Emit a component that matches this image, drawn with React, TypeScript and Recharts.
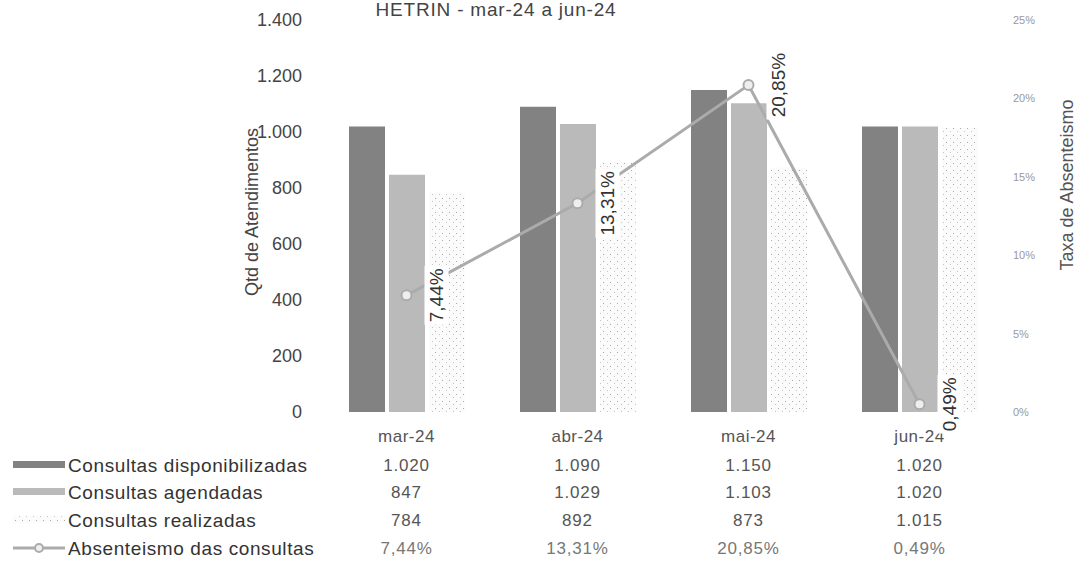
import React from 'react';
import { ComposedChart, Bar, Line, XAxis, YAxis, LabelList } from 'recharts';

const categories = ['mar-24', 'abr-24', 'mai-24', 'jun-24'];
const disponibilizadas = [1020, 1090, 1150, 1020];
const agendadas = [847, 1029, 1103, 1020];
const realizadas = [784, 892, 873, 1015];
const absenteismo = [7.44, 13.31, 20.85, 0.49];
const seriesNames = [
  'Consultas disponibilizadas',
  'Consultas agendadas',
  'Consultas realizadas',
  'Absenteismo das consultas',
];
const leftTicks = [0, 200, 400, 600, 800, 1000, 1200, 1400];
const rightTicks = [0, 5, 10, 15, 20, 25];
const title = 'HETRIN - mar-24 a jun-24';
const leftTitle = 'Qtd de Atendimentos';
const rightTitle = 'Taxa de Absenteismo';

const data = categories.map((c, i) => ({
  cat: c,
  disp: disponibilizadas[i],
  agen: agendadas[i],
  real: realizadas[i],
  abs: absenteismo[i],
}));

const fmtInt = (n: number) => String(n).replace(/\B(?=(\d{3})+(?!\d))/g, '.');
const fmtPct = (n: number) => n.toFixed(2).replace('.', ',') + '%';

const C_DARK = '#828282';
const C_LIGHT = '#bababa';
const C_LINE = '#ababab';

const rowOffsets = [24, 53, 80, 108, 136];

const TableTick = (props: any) => {
  const { x, y, payload } = props;
  const i = categories.indexOf(payload.value);
  const rows = [
    fmtInt(disponibilizadas[i]),
    fmtInt(agendadas[i]),
    fmtInt(realizadas[i]),
    fmtPct(absenteismo[i]),
  ];
  return (
    <g>
      <text x={x} y={y + rowOffsets[0]} textAnchor="middle" dominantBaseline="central" fontSize={17} fill="#555" letterSpacing={0.5}>
        {payload.value}
      </text>
      {rows.map((r, k) => (
        <text
          key={k}
          x={x}
          y={y + rowOffsets[k + 1]}
          textAnchor="middle"
          dominantBaseline="central"
          fontSize={17}
          letterSpacing={0.8}
          fill={k === 3 ? '#777' : '#555'}
        >
          {r}
        </text>
      ))}
      {i === 0 && (
        <g>
          {seriesNames.map((s, k) => {
            const ry = y + rowOffsets[k + 1];
            let key: any = null;
            if (k === 0) key = <rect x={13} y={ry - 4} width={52} height={7} fill={C_DARK} />;
            if (k === 1) key = <rect x={13} y={ry - 4} width={52} height={7} fill={C_LIGHT} />;
            if (k === 2) key = <rect x={13} y={ry - 4} width={52} height={7} fill="url(#dotPat)" />;
            if (k === 3)
              key = (
                <g>
                  <line x1={13} x2={65} y1={ry} y2={ry} stroke={C_LINE} strokeWidth={3} />
                  <circle cx={39} cy={ry} r={4} fill="#eee" stroke={C_LINE} strokeWidth={2} />
                </g>
              );
            return (
              <g key={k}>
                {key}
                <text x={68} y={ry} textAnchor="start" dominantBaseline="central" fontSize={19} letterSpacing={0.6} fill="#333">
                  {s}
                </text>
              </g>
            );
          })}
        </g>
      )}
    </g>
  );
};

const RotLabel = (props: any) => {
  const { x, y, value } = props;
  if (x == null || y == null) return null;
  const cx = x + 30;
  const cy = y;
  const txt = fmtPct(value);
  const w = txt.length * 10.5;
  return (
    <g transform={`rotate(-90 ${cx} ${cy})`}>
      <rect x={cx - w / 2 - 3} y={cy - 12} width={w + 6} height={24} fill="#fff" />
      <text x={cx} y={cy} textAnchor="middle" dominantBaseline="central" fontSize={19} fill="#333">
        {txt}
      </text>
    </g>
  );
};

const LeftTitle = (props: any) => {
  const vb = props.viewBox || {};
  const cx = vb.x - 9;
  const cy = vb.y + vb.height / 2 - 4;
  return (
    <text x={cx} y={cy} transform={`rotate(-90 ${cx} ${cy})`} textAnchor="middle" dominantBaseline="central" fontSize={18} fill="#444">
      {leftTitle}
    </text>
  );
};

const RightTitle = (props: any) => {
  const vb = props.viewBox || {};
  const cx = vb.x + 62;
  const cy = vb.y + 165;
  return (
    <text x={cx} y={cy} transform={`rotate(-90 ${cx} ${cy})`} textAnchor="middle" dominantBaseline="central" fontSize={18} fill="#555">
      {rightTitle}
    </text>
  );
};

const Dot = (props: any) => {
  const { cx, cy } = props;
  if (cx == null || cy == null) return null;
  return <circle cx={cx} cy={cy} r={5} fill="#eee" stroke={C_LINE} strokeWidth={2} />;
};

export default function App() {
  return (
    <div style={{ position: 'absolute', left: 0, top: 0, width: 1082, height: 567, fontFamily: '"Liberation Sans", Arial, sans-serif', background: '#fff' }}>
      <div
        style={{
          position: 'absolute',
          left: 0,
          top: 0,
          width: 992,
          textAlign: 'center',
          fontSize: 19,
          letterSpacing: '0.8px',
          lineHeight: '19px',
          color: '#444',
          zIndex: 2,
        }}
      >
        {title}
      </div>
      <ComposedChart
        width={1082}
        height={567}
        data={data}
        margin={{ top: 20, right: 17, bottom: 0, left: 261 }}
        barGap={4}
        barSize={36}
      >
        <defs>
          <pattern id="dotPat" width="7" height="7" patternUnits="userSpaceOnUse">
            <rect width="7" height="7" fill="#fbfbfb" />
            <rect x="1" y="2" width="1" height="1" fill="#aaa" />
            <rect x="5" y="5" width="1" height="1" fill="#c4c4c4" />
          </pattern>
        </defs>
        <XAxis
          dataKey="cat"
          axisLine={false}
          tickLine={false}
          tickSize={0}
          tickMargin={0}
          height={155}
          interval={0}
          tick={<TableTick />}
        />
        <YAxis
          yAxisId="left"
          orientation="left"
          width={60}
          domain={[0, 1400]}
          ticks={leftTicks}
          interval={0}
          axisLine={false}
          tickLine={false}
          tickSize={0}
          tickMargin={19}
          tickFormatter={(v: number) => fmtInt(v)}
          tick={{ fontSize: 18, fill: '#444' }}
          label={{ value: leftTitle, content: <LeftTitle /> }}
        />
        <YAxis
          yAxisId="right"
          orientation="right"
          width={60}
          domain={[0, 25]}
          ticks={rightTicks}
          interval={0}
          axisLine={false}
          tickLine={false}
          tickSize={0}
          tickMargin={8}
          tickFormatter={(v: number) => v + '%'}
          tick={{ fontSize: 11, fill: '#999' }}
          label={{ value: rightTitle, content: <RightTitle /> }}
        />
        <Bar yAxisId="left" dataKey="disp" name={seriesNames[0]} fill={C_DARK} isAnimationActive={false} />
        <Bar yAxisId="left" dataKey="agen" name={seriesNames[1]} fill={C_LIGHT} isAnimationActive={false} />
        <Bar yAxisId="left" dataKey="real" name={seriesNames[2]} fill="url(#dotPat)" isAnimationActive={false} />
        <Line
          yAxisId="right"
          type="linear"
          dataKey="abs"
          name={seriesNames[3]}
          stroke={C_LINE}
          strokeWidth={3}
          dot={<Dot />}
          activeDot={false}
          isAnimationActive={false}
        >
          <LabelList dataKey="abs" content={<RotLabel />} />
        </Line>
      </ComposedChart>
    </div>
  );
}
